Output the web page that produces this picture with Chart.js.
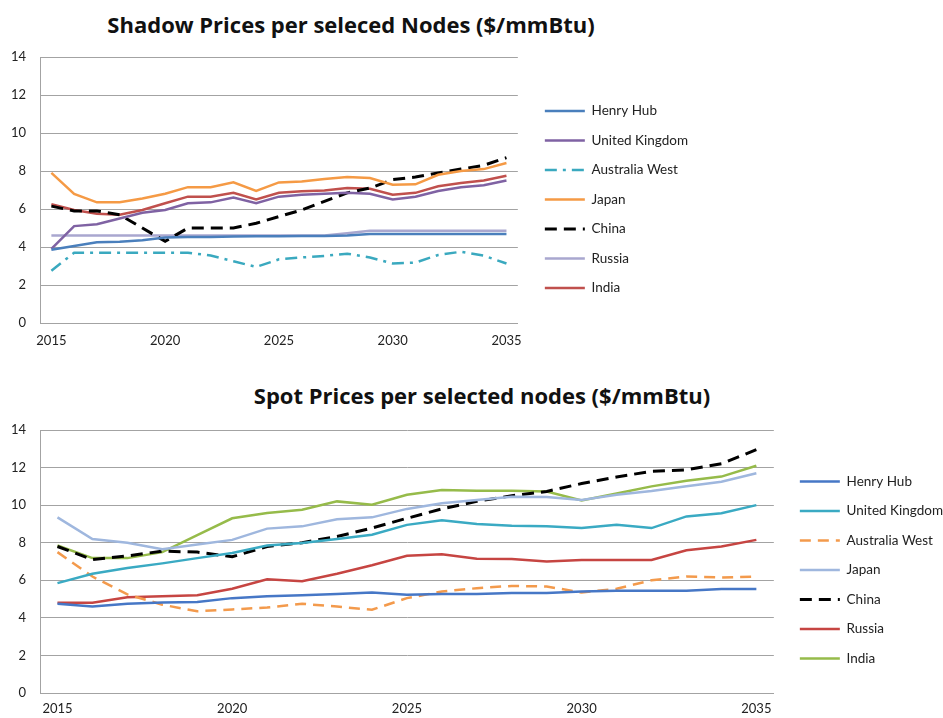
<!DOCTYPE html>
<html>
<head>
<meta charset="utf-8">
<script src="https://cdn.jsdelivr.net/npm/chart.js@4"></script>
<style>
  body { margin: 0; background: #fff; }
  #page { position: relative; width: 943px; height: 718px; overflow: hidden; font-family: Lato, "Open Sans", sans-serif; }
  .title { position: absolute; white-space: nowrap; font-family: "Open Sans", Lato, sans-serif; font-weight: bold; font-size: 22px; color: #111; transform: translate(-50%, -50%); }
  canvas { position: absolute; left: 0; }
</style>
</head>
<body>
<div id="page">
  <div class="title" style="left:351px; top:24px;">Shadow Prices per seleced Nodes ($/mmBtu)</div>
  <div class="title" style="left:482px; top:395px;">Spot Prices per selected nodes ($/mmBtu)</div>
  <canvas id="shadowChart" width="943" height="360" style="top:0"></canvas>
  <canvas id="spotChart" width="943" height="358" style="top:360px"></canvas>
</div>
<script>
'use strict';
// years on the x axis, only every fifth one gets a label
let years = [];
for (let y = 2015; y <= 2035; y++) years.push(String(y));
const shownYears = ['2015', '2020', '2025', '2030', '2035'];
const yTicks = [0, 2, 4, 6, 8, 10, 12, 14];

// shadow prices ($/mmBtu)
const shadowHenryHub = [3.85, 4.05, 4.25, 4.28, 4.35, 4.5, 4.52, 4.53, 4.55, 4.56, 4.57, 4.58, 4.58, 4.6, 4.68, 4.68, 4.68, 4.68, 4.68, 4.68, 4.68];
const shadowUK = [3.9, 5.1, 5.2, 5.5, 5.8, 5.95, 6.3, 6.35, 6.6, 6.3, 6.65, 6.75, 6.8, 6.85, 6.8, 6.5, 6.65, 6.95, 7.15, 7.25, 7.5];
const shadowAusWest = [2.75, 3.7, 3.7, 3.7, 3.7, 3.7, 3.7, 3.55, 3.25, 2.95, 3.35, 3.45, 3.53, 3.65, 3.45, 3.13, 3.18, 3.58, 3.75, 3.55, 3.13];
const shadowJapan = [7.9, 6.8, 6.35, 6.35, 6.55, 6.8, 7.15, 7.15, 7.4, 6.95, 7.4, 7.45, 7.58, 7.68, 7.63, 7.28, 7.3, 7.8, 8.0, 8.1, 8.42];
const shadowChina = [6.15, 5.9, 5.9, 5.7, 5.0, 4.3, 5.0, 5.0, 5.0, 5.25, 5.6, 5.95, 6.4, 6.85, 7.1, 7.55, 7.68, 7.9, 8.1, 8.3, 8.7];
const shadowRussia = [4.6, 4.6, 4.6, 4.6, 4.6, 4.6, 4.6, 4.6, 4.6, 4.6, 4.6, 4.6, 4.6, 4.72, 4.85, 4.85, 4.85, 4.85, 4.85, 4.85, 4.85];
const shadowIndia = [6.25, 5.95, 5.75, 5.7, 5.95, 6.3, 6.65, 6.65, 6.85, 6.5, 6.85, 6.93, 6.98, 7.1, 7.07, 6.75, 6.85, 7.2, 7.37, 7.5, 7.75];

// spot prices ($/mmBtu)
const spotHenryHub = [4.75, 4.6, 4.75, 4.82, 4.84, 5.05, 5.15, 5.2, 5.27, 5.35, 5.23, 5.27, 5.27, 5.32, 5.32, 5.4, 5.44, 5.44, 5.44, 5.53, 5.53];
const spotUK = [5.85, 6.35, 6.65, 6.9, 7.18, 7.45, 7.85, 7.98, 8.2, 8.42, 8.95, 9.2, 8.99, 8.9, 8.87, 8.78, 8.95, 8.78, 9.4, 9.57, 10.0];
const spotAusWest = [7.5, 6.2, 5.25, 4.7, 4.35, 4.45, 4.55, 4.75, 4.6, 4.43, 5.05, 5.4, 5.58, 5.7, 5.67, 5.35, 5.55, 6.0, 6.2, 6.15, 6.2];
const spotJapan = [9.35, 8.2, 8.0, 7.65, 7.9, 8.15, 8.75, 8.87, 9.25, 9.35, 9.8, 10.1, 10.28, 10.45, 10.43, 10.28, 10.55, 10.75, 11.0, 11.25, 11.7];
const spotChina = [7.8, 7.1, 7.3, 7.55, 7.5, 7.25, 7.8, 8.0, 8.33, 8.78, 9.3, 9.8, 10.2, 10.5, 10.73, 11.15, 11.5, 11.8, 11.88, 12.2, 12.95];
const spotRussia = [4.8, 4.8, 5.1, 5.15, 5.2, 5.55, 6.05, 5.95, 6.35, 6.8, 7.3, 7.38, 7.15, 7.13, 7.0, 7.08, 7.08, 7.08, 7.6, 7.8, 8.15];
const spotIndia = [7.85, 7.18, 7.18, 7.5, 8.4, 9.3, 9.58, 9.75, 10.2, 10.02, 10.55, 10.8, 10.76, 10.76, 10.72, 10.25, 10.62, 11.0, 11.3, 11.52, 12.1];

const gridGrey = '#a3a3a3';
const fontFamily = 'Lato, "Open Sans", sans-serif';

// moves the legend a bit away from the plot (labels.padding sets both gaps otherwise)
const nudgeLegend = {
  id: 'nudgeLegend',
  afterLayout(chart, args, opts) {
    const lg = chart.legend;
    lg.left += opts.x; lg.right += opts.x;
    lg.top += opts.y; lg.bottom += opts.y;
  }
};

function line(label, data, color, dash) {
  return {
    label: label,
    data: data,
    borderColor: color,
    backgroundColor: color,
    borderWidth: dash && color === '#000000' ? 3 : 2.5,
    borderDash: dash || [],
    pointRadius: 0,
    tension: 0,
    fill: false
  };
}

// with usePointStyle the legend takes the point style, so put the line's dash back
function legendLabels(chart) {
  const items = Chart.defaults.plugins.legend.labels.generateLabels(chart);
  items.forEach(function (it) {
    const ds = chart.data.datasets[it.datasetIndex];
    it.lineDash = ds.borderDash;
    it.lineWidth = ds.borderWidth;
    it.strokeStyle = ds.borderColor;
  });
  return items;
}

function makeChart(id, datasets, pad, xHeight, xPad, nudge) {
  const ctx = document.getElementById(id).getContext('2d');
  return new Chart(ctx, {
    type: 'line',
    data: { labels: years, datasets: datasets },
    plugins: [nudgeLegend],
    options: {
      responsive: false,
      animation: false,
      layout: { padding: pad },
      plugins: {
        tooltip: { enabled: false },
        nudgeLegend: nudge,
        legend: {
          position: 'right',
          labels: {
            usePointStyle: true,
            pointStyle: 'line',
            pointStyleWidth: 40,
            padding: 16,
            color: '#222',
            font: { family: fontFamily, size: 13.5 },
            generateLabels: legendLabels
          }
        }
      },
      scales: {
        x: {
          offset: true,
          grid: { display: false, drawTicks: false },
          border: { display: true, color: gridGrey, width: 1 },
          ticks: {
            autoSkip: false,
            maxRotation: 0,
            padding: xPad,
            color: '#222',
            font: { family: fontFamily, size: 13 },
            callback: function (v, i) {
              return shownYears.includes(years[i]) ? years[i] : null;
            }
          },
          afterFit: function (s) { s.height = xHeight; }
        },
        y: {
          min: yTicks[0],
          max: yTicks[yTicks.length - 1],
          grid: { color: gridGrey, lineWidth: 1, drawTicks: false },
          border: { display: true, color: gridGrey, width: 1 },
          ticks: {
            stepSize: 2,
            padding: 14,
            color: '#222',
            font: { family: fontFamily, size: 13 }
          },
          afterFit: function (s) { s.width = 40; }
        }
      }
    }
  });
}

makeChart('shadowChart', [
  line('Henry Hub', shadowHenryHub, '#4a7fbc'),
  line('United Kingdom', shadowUK, '#7f62a3'),
  line('Australia West', shadowAusWest, '#3aa9bf', [12, 6, 3, 6]),
  line('Japan', shadowJapan, '#f59a45'),
  line('China', shadowChina, '#000000', [12, 7]),
  line('Russia', shadowRussia, '#a9a7cf'),
  line('India', shadowIndia, '#c0504d')
], { top: 57, right: 256, bottom: 0, left: 0 }, 37, 10, { x: 11, y: -9 });

makeChart('spotChart', [
  line('Henry Hub', spotHenryHub, '#4677c6'),
  line('United Kingdom', spotUK, '#3aaac3'),
  line('Australia West', spotAusWest, '#f39a4c', [11, 7]),
  line('Japan', spotJapan, '#9fb7de'),
  line('China', spotChina, '#000000', [12, 7]),
  line('Russia', spotRussia, '#c64542'),
  line('India', spotIndia, '#96bb4a')
], { top: 70, right: 0, bottom: 0, left: 0 }, 25, 8, { x: 10, y: -4 });
</script>
</body>
</html>
